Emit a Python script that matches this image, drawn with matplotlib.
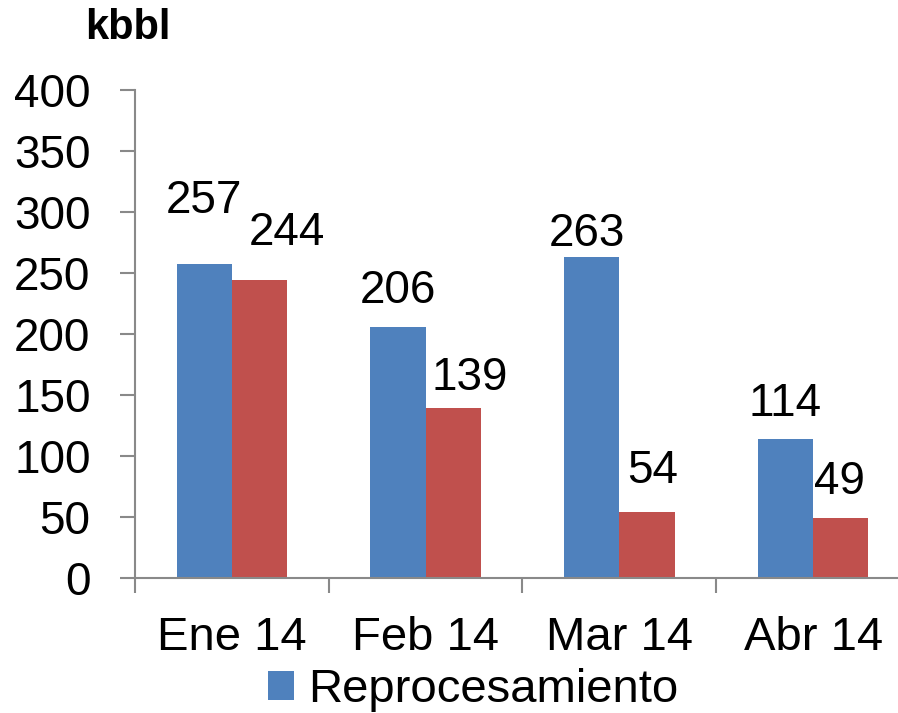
import numpy as np
import matplotlib
matplotlib.use("Agg")
from matplotlib import pyplot as plt

plt.rcParams['font.family'] = ['Liberation Sans', 'DejaVu Sans']

months = ["Ene 14", "Feb 14", "Mar 14", "Abr 14"]
reproc = [257, 206, 263, 114]
otros = [244, 139, 54, 49]
series_name = "Reprocesamiento"

# label offsets (dx in px, dy in data units), picked by eye
blue_off = [(0, 52), (0, 29), (-5, 19), (0, 29)]
red_off = [(27, 39), (16, 25), (6, 34), (-1, 30)]

blue = "#4F81BD"
red = "#C0504D"
grey = "#898989"

W, H = 898, 713
fig = plt.figure(figsize=(W / 100, H / 100), dpi=100)
ax = fig.add_axes([135 / W, 1 - 578 / H, (898 - 135) / W, (578 - 90) / H])

x = np.arange(len(months))
bw = 0.285
ax.bar(x - bw / 2, reproc, bw, color=blue, label=series_name)
ax.bar(x + bw / 2, otros, bw, color=red)

for i in range(len(months)):
    dx, dy = blue_off[i]
    ax.text(x[i] - bw / 2 + dx / 194, reproc[i] + dy, str(reproc[i]),
            ha="center", va="center", fontsize=33)
    dx, dy = red_off[i]
    ax.text(x[i] + bw / 2 + dx / 194, otros[i] + dy, str(otros[i]),
            ha="center", va="center", fontsize=33)

ax.set_yticks(range(0, 401, 50))
ax.set_xticks(x)
ax.set_xticklabels(months)
ax.set_xticks(np.arange(-0.5, 3, 1), minor=True)
# limits after the ticks, set_xticks would widen them
ax.set_xlim(-0.5, 3.5 - 12 / 194)
ax.set_ylim(0, 400)
ax.tick_params(axis="x", which="major", length=0, labelsize=34, pad=27)
ax.tick_params(axis="x", which="minor", length=11, width=1.5, color=grey)
ax.tick_params(axis="y", length=11, width=1.5, color=grey, labelsize=33, pad=21)

for s in ["top", "right"]:
    ax.spines[s].set_visible(False)
for s in ["left", "bottom"]:
    ax.spines[s].set_color(grey)
    ax.spines[s].set_linewidth(1.5)

fig.text(85 / W, 1 - 28 / H, "kbbl", fontsize=30, fontweight="bold", va="center")

fig.legend(loc="center", bbox_to_anchor=(473 / W, 1 - 690 / H), frameon=False,
           fontsize=34, handlelength=0.55, handleheight=0.55, handletextpad=0.3,
           borderpad=0, borderaxespad=0)

fig.savefig("out.png", dpi=100)
